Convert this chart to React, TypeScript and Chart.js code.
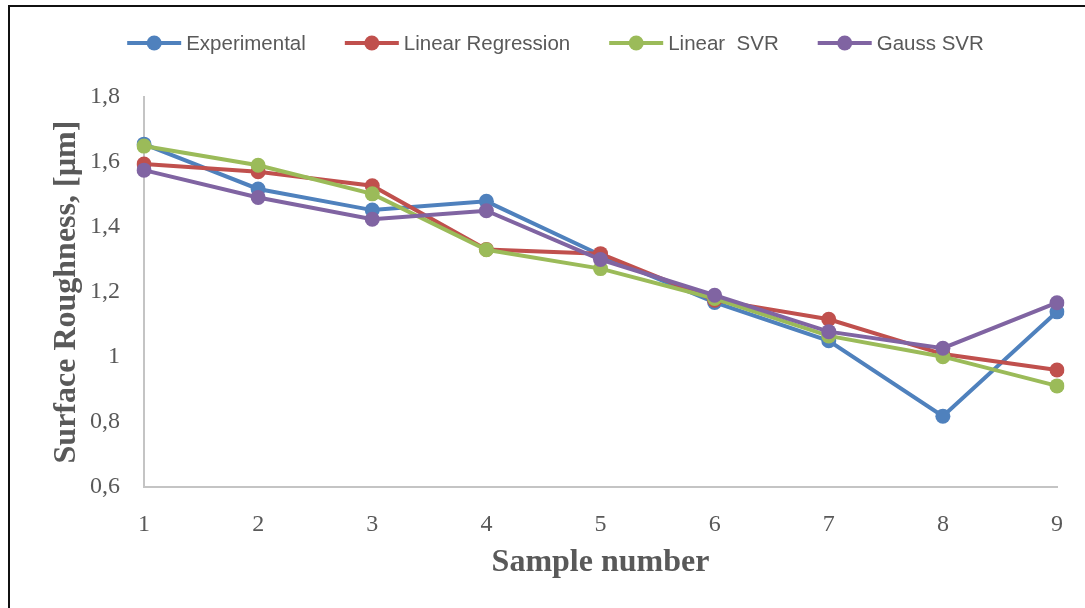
import React, { useEffect, useRef } from "react";
import { Chart, registerables } from "chart.js";

Chart.register(...registerables);

const samples = ["1", "2", "3", "4", "5", "6", "7", "8", "9"];
const experimental = [1.655, 1.517, 1.452, 1.479, 1.314, 1.168, 1.05, 0.818, 1.139];
const linearRegression = [1.594, 1.57, 1.527, 1.331, 1.318, 1.175, 1.116, 1.009, 0.96];
const linearSVR = [1.649, 1.59, 1.502, 1.33, 1.272, 1.18, 1.065, 1.001, 0.911];
const gaussSVR = [1.575, 1.491, 1.424, 1.45, 1.3, 1.19, 1.078, 1.027, 1.167];

const seriesNames = ["Experimental", "Linear Regression", "Linear  SVR", "Gauss SVR"];
const seriesColors = ["#4f81bd", "#c0504d", "#9bbb59", "#8064a2"];
const yMin = 0.6;
const yMax = 1.8;
const yStep = 0.2;
const xTitle = "Sample number";
const yTitle = "Surface Roughness, [µm]";

const TEXT = "#595959";
const SERIF = '"Liberation Serif", "Times New Roman", serif';
const SANS = '"Liberation Sans", Arial, sans-serif';

const legendPlugin = {
  id: "lineDotLegend",
  afterDraw(chart: any) {
    const ctx = chart.ctx as CanvasRenderingContext2D;
    ctx.save();
    ctx.font = `20.5px ${SANS}`;
    const lineLen = 54;
    const gapText = 5;
    const gapItem = 39;
    const y = 43;
    const items = chart.data.datasets.map((ds: any) => ({
      label: ds.label as string,
      color: ds.borderColor as string,
      w: ctx.measureText(ds.label).width,
    }));
    const total =
      items.reduce((s: number, it: any) => s + lineLen + gapText + it.w, 0) +
      gapItem * (items.length - 1);
    let x = chart.width / 2 + 13 - total / 2;
    for (const it of items) {
      ctx.strokeStyle = it.color;
      ctx.lineWidth = 4;
      ctx.beginPath();
      ctx.moveTo(x, y);
      ctx.lineTo(x + lineLen, y);
      ctx.stroke();
      ctx.fillStyle = it.color;
      ctx.beginPath();
      ctx.arc(x + lineLen / 2, y, 7.5, 0, Math.PI * 2);
      ctx.fill();
      ctx.fillStyle = TEXT;
      ctx.textBaseline = "middle";
      ctx.textAlign = "left";
      ctx.fillText(it.label, x + lineLen + gapText, y + 1);
      x += lineLen + gapText + it.w + gapItem;
    }
    ctx.restore();
  },
};

export default function App() {
  const canvasRef = useRef<HTMLCanvasElement | null>(null);

  useEffect(() => {
    if (!canvasRef.current) return;
    const values = [experimental, linearRegression, linearSVR, gaussSVR];
    const chart = new Chart(canvasRef.current, {
      type: "line",
      data: {
        labels: samples,
        datasets: values.map((v, i) => ({
          label: seriesNames[i],
          data: v,
          borderColor: seriesColors[i],
          backgroundColor: seriesColors[i],
          pointBackgroundColor: seriesColors[i],
          pointBorderColor: seriesColors[i],
          pointRadius: 7.5,
          pointBorderWidth: 0,
          borderWidth: 4,
          tension: 0,
          fill: false,
          order: values.length - i,
        })),
      },
      options: {
        responsive: false,
        animation: false,
        events: [],
        layout: { padding: { top: 97, left: 0, right: 28, bottom: 0 } },
        plugins: {
          legend: { display: false },
          tooltip: { enabled: false },
        },
        scales: {
          x: {
            type: "category",
            offset: false,
            grid: { display: false },
            border: { display: true, color: "#c4c4c4", width: 2 },
            ticks: {
              color: TEXT,
              font: { family: SERIF, size: 24 },
              padding: 15,
              maxRotation: 0,
              autoSkip: false,
            },
            title: {
              display: true,
              text: xTitle,
              color: TEXT,
              font: { family: SERIF, size: 32, weight: "bold" },
              padding: { top: 0, bottom: 26 },
            },
            afterFit: (scale: any) => {
              scale.height = 121;
            },
          },
          y: {
            min: yMin,
            max: yMax,
            grid: { display: false },
            border: { display: true, color: "#c4c4c4", width: 2 },
            ticks: {
              stepSize: yStep,
              color: TEXT,
              font: { family: SERIF, size: 24 },
              padding: 16,
              callback: (v: any) => String(Math.round(Number(v) * 10) / 10).replace(".", ","),
            },
            title: {
              display: true,
              text: yTitle,
              color: TEXT,
              font: { family: SERIF, size: 32, weight: "bold" },
              padding: { top: 48, bottom: 0 },
            },
            afterFit: (scale: any) => {
              scale.width = 144;
            },
          },
        },
      },
      plugins: [legendPlugin],
    });
    return () => chart.destroy();
  }, []);

  return (
    <div
      style={{
        position: "fixed",
        left: 0,
        top: 0,
        width: 1085,
        height: 608,
        background: "#fff",
        overflow: "hidden",
      }}
    >
      <canvas
        ref={canvasRef}
        width={1085}
        height={608}
        style={{ position: "absolute", left: 0, top: 0, display: "block" }}
      />
      <div
        style={{
          position: "absolute",
          left: 8,
          top: 5,
          width: 1100,
          height: 620,
          borderLeft: "2px solid #111",
          borderTop: "2px solid #111",
          boxSizing: "border-box",
          pointerEvents: "none",
        }}
      />
    </div>
  );
}
